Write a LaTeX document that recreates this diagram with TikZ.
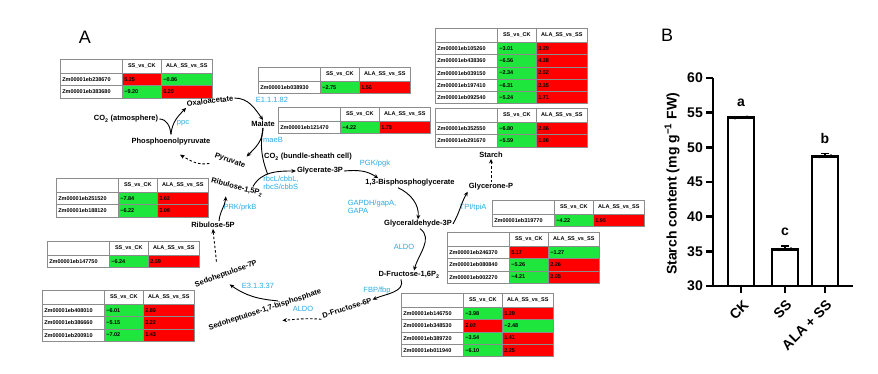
\documentclass[tikz,border=0pt]{standalone}
\usepackage{fontspec}
\setmainfont{Liberation Sans}
\usetikzlibrary{arrows.meta,positioning,calc}
\definecolor{EnzBlue}{HTML}{2AAAE2}
\definecolor{CellGreen}{HTML}{1EE63C}
\definecolor{CellRed}{HTML}{FF0000}
\definecolor{TabLine}{HTML}{8C8C8C}
\tikzset{
metab/.style={font=\fontsize{7.5}{9}\selectfont\bfseries, inner sep=1pt},
enzyme/.style={font=\fontsize{7.5}{8.5}\selectfont, text=EnzBlue, inner sep=1pt, align=left},
flowarrow/.style={-{Stealth[length=4.5pt,width=4pt]}, line width=0.9pt},
flowdash/.style={flowarrow, dash pattern=on 2.5pt off 2pt},
flowjoin/.style={line width=0.9pt},
tabcell/.style={draw=TabLine, line width=0.6pt, anchor=north west, inner xsep=2pt, inner ysep=0pt, minimum height=#1, font=\fontsize{5.5}{6}\selectfont\bfseries},
idcell/.style={tabcell=#1, text width=58pt, align=left},
sscell/.style={tabcell=#1, text width=35pt, align=left},
alacell/.style={tabcell=#1, text width=47pt, align=left},
barfont/.style={font=\fontsize{14}{16}\selectfont\bfseries, inner sep=1pt},
barline/.style={line width=2.6pt},
panel/.style={font=\fontsize{18}{20}\selectfont, inner sep=0pt}
}
% gene table: name, left, top, rows id/ss/colour/ala/colour
\newcommand{\genetab}[4]{%
  \node[idcell=14pt] (#1-h0) at (#2,#3) {};
  \node[sscell=14pt, align=center] (#1-h1) at ({#2+62},#3) {SS\_vs\_CK};
  \node[alacell=14pt, align=center] (#1-h2) at ({#2+101},#3) {ALA\_SS\_vs\_SS};
  \foreach \gid/\vss/\css/\vala/\cala [count=\r] in {#4}{
    \pgfmathsetmacro\rowy{#3+14+12.3*(\r-1)}
    \node[idcell=12.3pt] (#1-\r-id) at (#2,\rowy) {Zm00001eb\gid};
    \node[sscell=12.3pt, fill=\css] (#1-\r-ss) at ({#2+62},\rowy) {\vss};
    \node[alacell=12.3pt, fill=\cala] (#1-\r-ala) at ({#2+101},\rowy) {\vala};
  }
}

\begin{document}
\begin{tikzpicture}[x=1pt, y=-1pt]
\useasboundingbox (0,0) rectangle (878,374);
\node[panel] (lblA) at (85,37) {A};
\node[panel] (lblB) at (667,35) {B};

% tables
\genetab{tabA}{60}{59}{238670/5.25/CellRed/−0.86/CellGreen, 383680/−9.20/CellGreen/6.20/CellRed}
\genetab{tabB}{258}{67}{038930/−2.75/CellGreen/1.56/CellRed}
\genetab{tabC}{278}{107}{121470/−4.22/CellGreen/1.78/CellRed}
\genetab{tabD}{435}{28}{105260/−3.01/CellGreen/3.29/CellRed, 438360/−6.56/CellGreen/4.38/CellRed, 039150/−2.34/CellGreen/2.52/CellRed, 197410/−6.31/CellGreen/2.35/CellRed, 092540/−5.24/CellGreen/1.71/CellRed}
\genetab{tabE}{435}{108}{352550/−6.80/CellGreen/2.86/CellRed, 291670/−5.59/CellGreen/1.86/CellRed}
\genetab{tabF}{56}{178}{251520/−7.84/CellGreen/3.62/CellRed, 188120/−6.22/CellGreen/3.08/CellRed}
\genetab{tabG}{47}{241}{147750/−6.24/CellGreen/2.59/CellRed}
\genetab{tabH}{42}{290}{408010/−6.01/CellGreen/2.89/CellRed, 386660/−5.15/CellGreen/3.22/CellRed, 200910/−7.02/CellGreen/1.43/CellRed}
\genetab{tabI}{492}{200}{319770/−4.22/CellGreen/1.95/CellRed}
\genetab{tabJ}{447}{232}{246370/5.17/CellRed/−1.27/CellGreen, 080840/−5.26/CellGreen/2.26/CellRed, 002270/−4.21/CellGreen/2.05/CellRed}
\genetab{tabK}{401}{293}{146750/−3.98/CellGreen/1.29/CellRed, 348530/2.02/CellRed/−2.48/CellGreen, 389720/−3.54/CellGreen/1.41/CellRed, 011940/−6.10/CellGreen/2.25/CellRed}

% metabolites
\node[metab] (co2a) at (126,119) {CO\textsubscript{2} (atmosphere)};
\node[metab] (pep) at (171,142) {Phosphoenolpyruvate};
\node[metab, rotate=7] (oaa) at (210,101) {Oxaloacetate};
\node[metab] (mal) at (263,124) {Malate};
\node[metab, rotate=-20] (pyr) at (230,161) {Pyruvate};
\node[metab] (co2b) at (308,157) {CO\textsubscript{2} (bundle-sheath cell)};
\node[metab] (glyc) at (320,171) {Glycerate-3P};
\node[metab, rotate=-15] (rubp) at (237,187) {Ribulose-1,5P\textsubscript{2}};
\node[metab] (bpg) at (410,183) {1,3-Bisphosphoglycerate};
\node[metab] (gap) at (418,224) {Glyceraldehyde-3P};
\node[metab] (dhap) at (491,187) {Glycerone-P};
\node[metab] (starch) at (491,155) {Starch};
\node[metab] (fbp) at (409,275) {D-Fructose-1,6P\textsubscript{2}};
\node[metab, rotate=18] (f6p) at (347,308) {D-Fructose-6P};
\node[metab, rotate=18] (sbp) at (265,310) {Sedoheptulose-1,7-bisphosphate};
\node[metab, rotate=20] (s7p) at (226,274) {Sedoheptulose-7P};
\node[metab] (ru5p) at (213,225) {Ribulose-5P};

% enzymes
\node[enzyme] (ppc) at (183,123) {ppc};
\node[enzyme] (mdh) at (272,100) {E1.1.1.82};
\node[enzyme] (maeb) at (273,140) {maeB};
\node[enzyme] (rbc) at (281,183) {rbcL/cbbL,\\rbcS/cbbS};
\node[enzyme] (pgk) at (375,164) {PGK/pgk};
\node[enzyme] (gapdh) at (372,207) {GAPDH/gapA,\\GAPA};
\node[enzyme] (tpi) at (473,208) {TPI/tpiA};
\node[enzyme] (aldo1) at (404,247) {ALDO};
\node[enzyme] (fbpase) at (377,291) {FBP/fbp};
\node[enzyme] (aldo2) at (303,309) {ALDO};
\node[enzyme] (sbpase) at (258,286) {E3.1.3.37};
\node[enzyme] (prk) at (240,208) {PRK/prkB};

% C4 shuttle
\coordinate (pepjoin) at ($(pep.north)+(0pt,3pt)$);
\draw[flowjoin] (co2a.east) to[out=0,in=95] (pepjoin);
\draw[flowarrow] (pepjoin) to[out=85,in=225] (oaa.south west);
\draw[flowarrow] (oaa.east) to[out=0,in=125] (mal.north);
\coordinate (pyrin) at ($(pyr.north east)+(-1pt,6pt)$);
\draw[flowarrow] (mal.south) to[out=-90,in=45] (pyrin);
\draw[flowdash] ([xshift=-3pt,yshift=-4pt]pyr.south west) to[out=190,in=-30] ($(pep.south)+(9pt,-8pt)$);

% Calvin cycle
\draw[flowarrow] ($(rubp.north)!0.55!(rubp.north east)$) to[out=60,in=180] coordinate[pos=0.42] (fixjoin) (glyc.west);
\draw[flowjoin] (mal.south) to[out=-100,in=110] (fixjoin);
\draw[flowarrow] (glyc.east) to[out=5,in=145] ([xshift=14pt]bpg.north west);
\draw[flowarrow] ([xshift=-12pt]bpg.south) to[out=-25,in=85] (gap.north);
\draw[flowarrow] (gap.east) to[out=60,in=240] (dhap.south west);
\draw[flowdash] (dhap.north) -- (dhap.north |- starch.south);
\draw[flowarrow] ([xshift=2pt]gap.south) to[out=-35,in=75] ([xshift=5pt]fbp.north);
\draw[flowarrow] ([xshift=-8pt]fbp.south) to[out=-70,in=25] (f6p.east);
\draw[flowdash] ([yshift=-3pt]f6p.west) to[out=175,in=5] ($(sbp.south)+(16pt,-6pt)$);
\draw[flowarrow] ($(sbp.north)!0.25!(sbp.north east)$) to[out=175,in=-35] ([xshift=2pt,yshift=-6pt]s7p.south);
\draw[flowdash] ($(s7p.north)+(-8pt,8pt)$) to[out=95,in=-85] (ru5p.south);
\draw[flowarrow] ([xshift=6pt]ru5p.north) to[out=85,in=-95] ([xshift=-10pt,yshift=-5pt]rubp.south);

% panel B: starch content
\draw[barline] (713,78) -- (713,286) -- (853,286);
\foreach \v in {30,35,...,60}{
  \draw[barline] (706,{286-(\v-30)*6.933}) -- (713,{286-(\v-30)*6.933});
  \node[barfont, anchor=east] (ytick\v) at (704,{286-(\v-30)*6.933}) {\v};
}
\node[barfont, rotate=90] (ylab) at (672,184) {Starch content (mg g\textsuperscript{−1} FW)};
\foreach \cx/\ty in {741/117.5, 785/249.3, 825/156.3}{
  \draw[barline] ({\cx-13},286) rectangle ({\cx+13},\ty);
  \draw[barline] (\cx,286) -- (\cx,293);
  \fill ({\cx-6},{\ty+0.5}) circle (1.6pt) (\cx,\ty) circle (1.6pt) ({\cx+6},{\ty-0.5}) circle (1.6pt);
}
\draw[line width=1.2pt] (785,249.3) -- (785,246) (781,246) -- (789,246);
\draw[line width=1.2pt] (825,156.3) -- (825,153.5) (821,153.5) -- (829,153.5);
\node[barfont] (siga) at (741,103) {a};
\node[barfont] (sigc) at (785,232) {c};
\node[barfont] (sigb) at (825,138) {b};
\node[barfont, rotate=45, anchor=east] (xck) at (747,302) {CK};
\node[barfont, rotate=45, anchor=east] (xss) at (790,302) {SS};
\node[barfont, rotate=45, anchor=east] (xala) at (830,302) {ALA + SS};
\end{tikzpicture}
\end{document}
